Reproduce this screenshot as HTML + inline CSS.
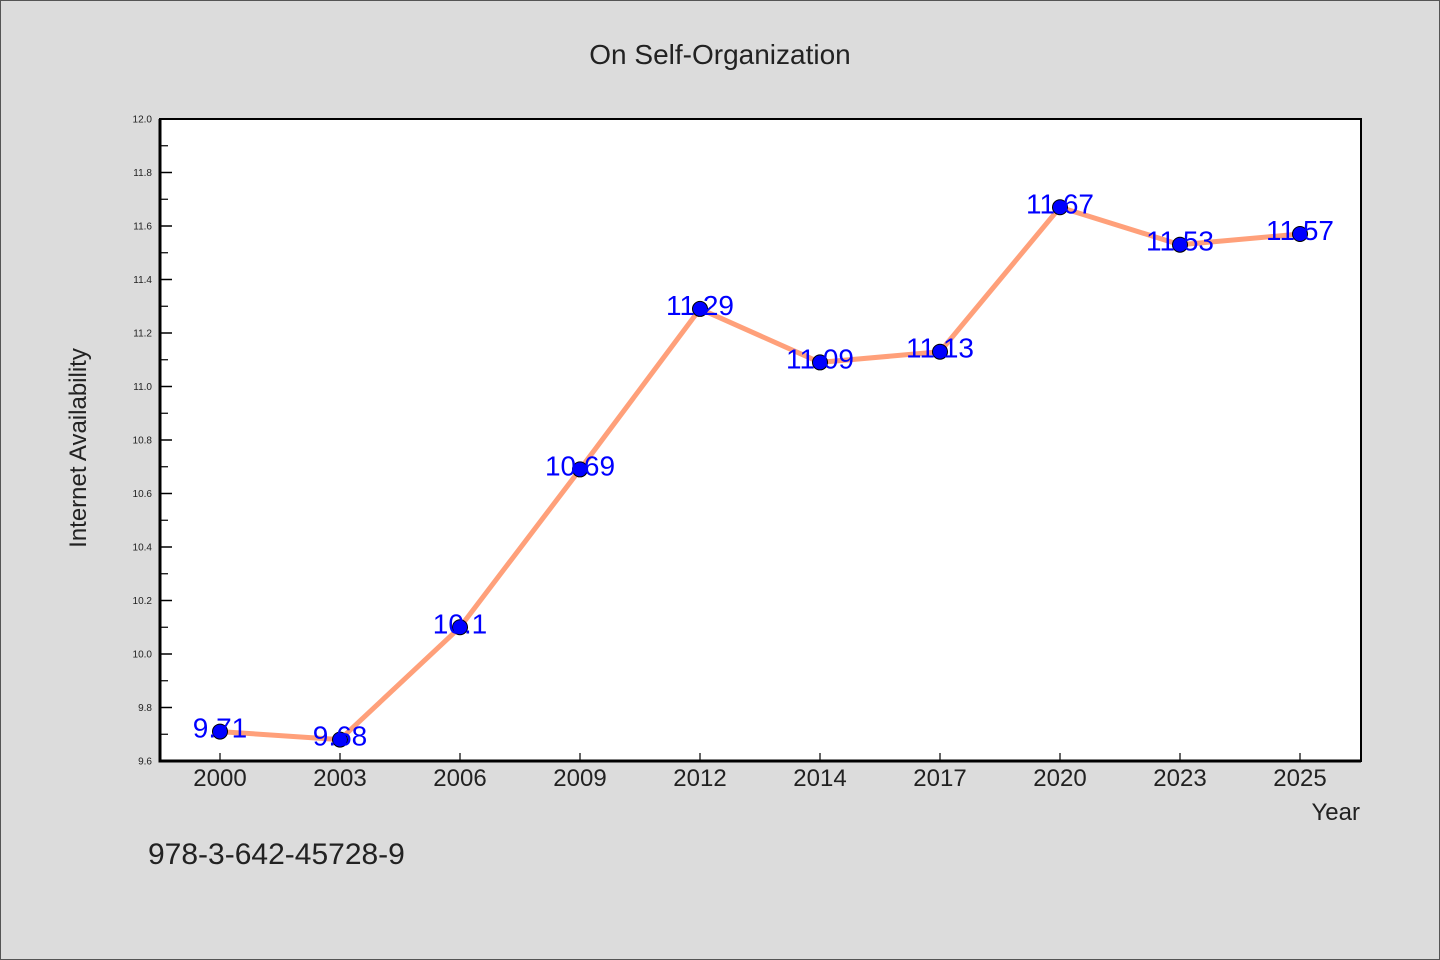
<!DOCTYPE html>
<html><head><meta charset="utf-8"><style>
body{margin:0;background:#dcdcdc;}
svg{display:block;font-family:"WenQuanYi Zen Hei","Liberation Sans",sans-serif;}
</style></head><body>
<svg width="1440" height="960">
<rect x="0.5" y="0.5" width="1439" height="959" fill="#dcdcdc" stroke="#555"/>
<text x="720" y="64" text-anchor="middle" font-size="28" fill="#222">On Self-Organization</text>
<rect x="160" y="119" width="1201" height="642" fill="#fff" stroke="#000" stroke-width="2"/>
<g id="axes"></g>
<g id="marks"></g>
<text x="1360" y="820" text-anchor="end" font-size="24" fill="#222">Year</text>
<text transform="translate(86,448) rotate(-90)" text-anchor="middle" font-size="24" fill="#222">Internet Availability</text>
<text x="148" y="864" font-size="30" fill="#222">978-3-642-45728-9</text>
</svg>
<script>
const categories=["2000","2003","2006","2009","2012","2014","2017","2020","2023","2025"];
const values=[9.71,9.68,10.1,10.69,11.29,11.09,11.13,11.67,11.53,11.57];
const valueLabels=["9.71","9.68","10.1","10.69","11.29","11.09","11.13","11.67","11.53","11.57"];
const yTicks=["9.6","9.8","10.0","10.2","10.4","10.6","10.8","11.0","11.2","11.4","11.6","11.8","12.0"];
const NS="http://www.w3.org/2000/svg";
const L=160,R=1361,T=119,B=761,yMin=9.6,yMax=12.0;
const x=i=>220+i*120;
const y=v=>B-(v-yMin)/(yMax-yMin)*(B-T);
function mk(tag,attrs,parent){const e=document.createElementNS(NS,tag);for(const k in attrs)e.setAttribute(k,attrs[k]);parent.appendChild(e);return e;}
const ax=document.getElementById('axes'),mg=document.getElementById('marks');
mk('line',{x1:L,y1:T,x2:L,y2:B+1.5,stroke:'#000','stroke-width':3},ax);
mk('line',{x1:L-1.5,y1:B,x2:R,y2:B,stroke:'#000','stroke-width':3},ax);
yTicks.forEach((t,i)=>{const yy=y(parseFloat(t));
 const tk=mk('line',{x1:L,y1:yy,x2:L+12,y2:yy,stroke:'#000','stroke-width':1.5},ax);
 
 const tx=mk('text',{x:L-8,y:yy+3.5,'text-anchor':'end','font-size':10,fill:'#222'},ax);tx.textContent=t;
 
 if(i<yTicks.length-1){const ym=y(parseFloat(t)+0.1);
  const m=mk('line',{x1:L,y1:ym,x2:L+8,y2:ym,stroke:'#000','stroke-width':1.2},ax);
  }
});
categories.forEach((c,i)=>{
 const tk=mk('line',{x1:x(i),y1:B,x2:x(i),y2:B-8,stroke:'#000','stroke-width':1.2},ax);
 
 const tx=mk('text',{x:x(i),y:B+25,'text-anchor':'middle','font-size':24,fill:'#222'},ax);tx.textContent=c;
 
});
const pl=mk('polyline',{points:values.map((v,i)=>x(i)+','+y(v)).join(' '),fill:'none',stroke:'#ffa07a','stroke-width':5,'stroke-linejoin':'round'},mg);

values.forEach((v,i)=>{
 const c=mk('circle',{cx:x(i),cy:y(v),r:7.5,fill:'#0000ff',stroke:'#000','stroke-width':1},mg);
 
 const t=mk('text',{x:x(i),y:y(v)+6,'text-anchor':'middle','font-size':28,fill:'#0000ff'},mg);t.textContent=valueLabels[i];
 
});
</script>
</body></html>
